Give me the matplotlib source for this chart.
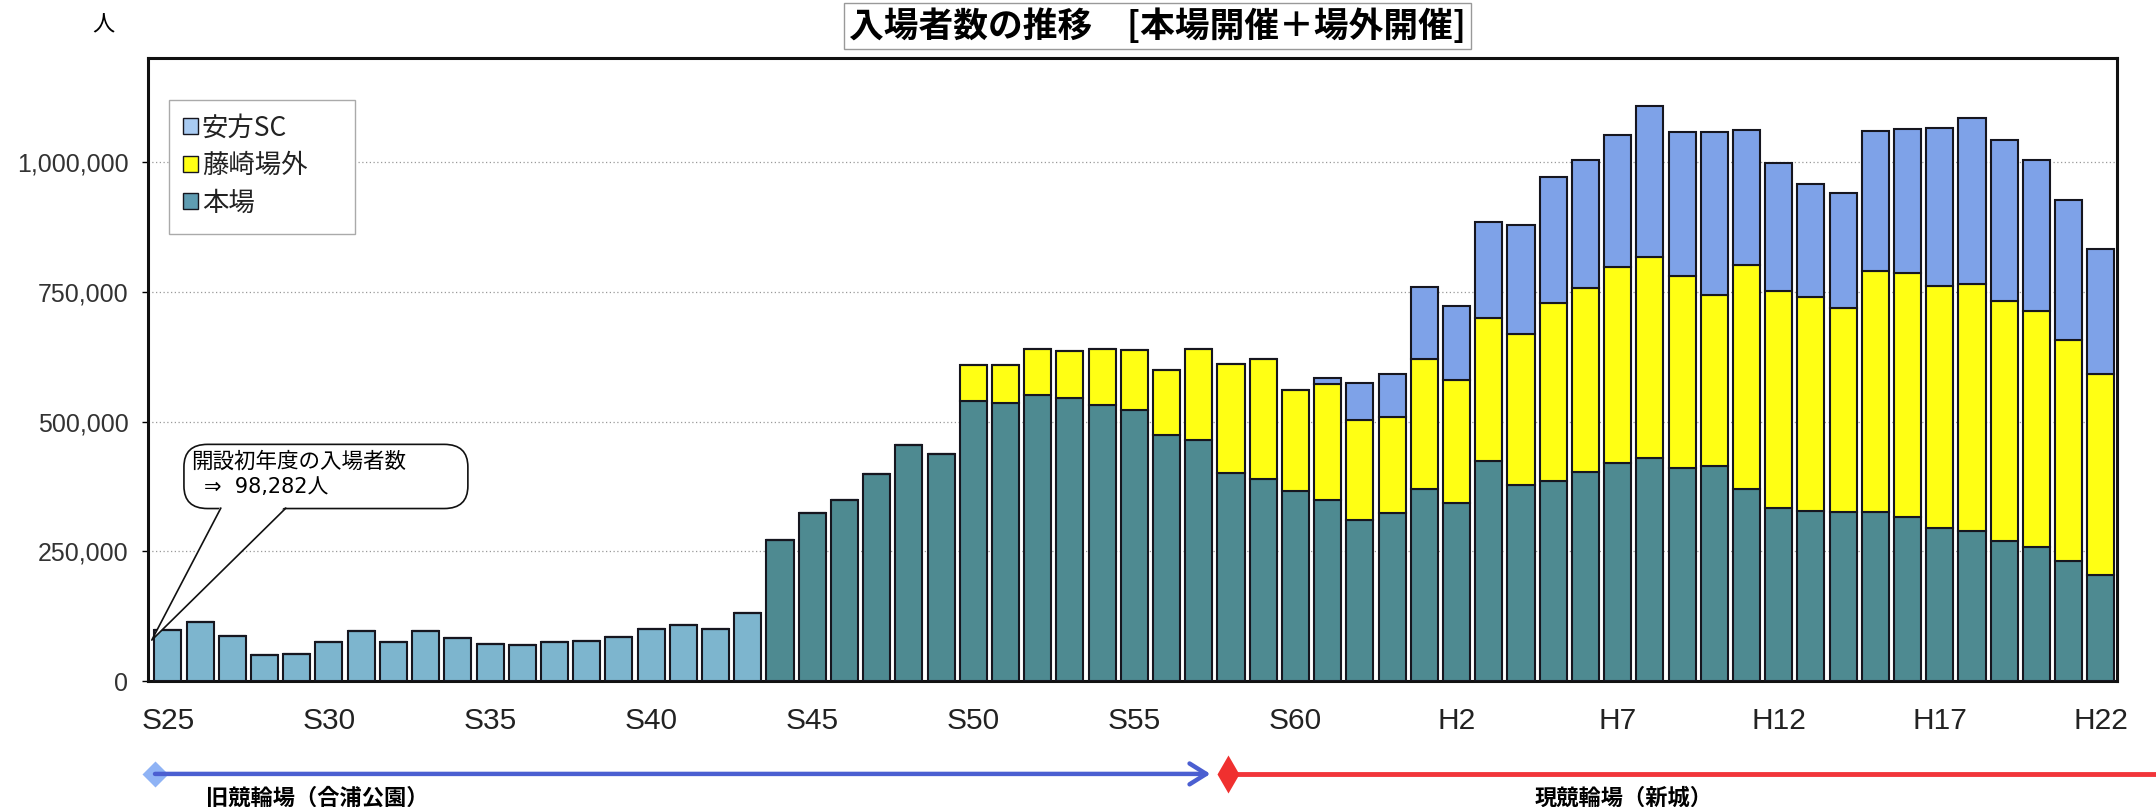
import numpy as np
import matplotlib
matplotlib.use('Agg')
import matplotlib.pyplot as plt
import matplotlib.transforms as mtransforms
from matplotlib.patches import Patch, FancyBboxPatch, Polygon, Rectangle
from matplotlib.ticker import FuncFormatter

plt.rcParams['font.family'] = ['Liberation Sans', 'Noto Sans CJK JP']
JP = ['Noto Sans CJK JP', 'DejaVu Sans']
NARROW = ['Liberation Sans Narrow', 'Liberation Sans']

# fiscal years S25 (1950) .. H22 (2010)
years = ['S%d' % n for n in range(25, 64)] + ['H%d' % n for n in range(1, 23)]
tick_years = ['S25', 'S30', 'S35', 'S40', 'S45', 'S50', 'S55', 'S60',
              'H2', 'H7', 'H12', 'H17', 'H22']

# 本場
honjo = [98282, 114000, 86000, 50000, 53000, 75000, 97000, 75000, 97000, 83000,
         71000, 69000, 76000, 78000, 85000, 100000, 108000, 101000, 132000, 272000,
         324000, 349000, 399000, 455000, 437000, 540000, 535000, 551000, 546000, 532000,
         522000, 475000, 465000, 401000, 390000, 366000, 348000, 311000, 323000, 370000,
         344000, 424000, 377000, 386000, 403000, 421000, 430000, 410000, 415000, 370000,
         334000, 328000, 325000, 326000, 317000, 294000, 289000, 269000, 258000, 231000,
         204000]
# 藤崎場外
fujisaki = [0] * 25 + [68000, 73000, 88000, 90000, 108000, 116000, 124000, 174000,
                       210000, 231000, 194000, 224000, 191000, 185000, 250000, 236000,
                       276000, 292000, 342000, 354000, 376000, 386000, 371000, 328000,
                       431000, 417000, 411000, 393000, 464000, 469000, 467000, 476000,
                       464000, 454000, 426000, 388000]
# 安方SC
yasukata = [0] * 36 + [11000, 72000, 83000, 139000, 143000, 184000, 210000, 243000,
                       246000, 255000, 292000, 276000, 315000, 260000, 246000, 219000,
                       222000, 269000, 278000, 305000, 319000, 309000, 291000, 270000,
                       240000]

last_light = 'S43'   # early 本場 bars print lighter in the source

c_honjo_old = '#7db5ce'
c_honjo = '#4e8a91'
c_fuji = '#ffff14'
c_yasu = '#7ea2e8'
edge = '#16161f'

fig = plt.figure(figsize=(21.56, 8.07), dpi=100)
ax = fig.add_axes([0.0686, 0.156, 0.9133, 0.772])

x = np.arange(len(years))
honjo_a = np.array(honjo)
fuji_a = np.array(fujisaki)
yasu_a = np.array(yasukata)
cols = [c_honjo_old if i <= years.index(last_light) else c_honjo for i in range(len(years))]

w = 0.84
ax.bar(x, honjo_a, width=w, color=cols, edgecolor=edge, linewidth=1.5, zorder=3)
ax.bar(x, fuji_a, width=w, bottom=honjo_a, color=c_fuji, edgecolor=edge, linewidth=1.5, zorder=3)
ax.bar(x, yasu_a, width=w, bottom=honjo_a + fuji_a, color=c_yasu, edgecolor=edge,
       linewidth=1.5, zorder=3)

ax.set_xlim(-0.62, 60.5)
ax.set_ylim(0, 1200000)
ax.set_yticks(np.arange(0, 1000001, 250000))
ax.yaxis.set_major_formatter(FuncFormatter(lambda v, p: '{:,.0f}'.format(v)))
ax.set_xticks([years.index(t) for t in tick_years])
ax.set_xticklabels(tick_years, family=NARROW, fontsize=21.5, color='#222222')
for lab in ax.get_yticklabels():
    lab.set_fontsize(18)
    lab.set_color('#333333')
ax.tick_params(axis='x', length=0, pad=19)
ax.tick_params(axis='y', length=4, width=1, pad=10, direction='out')

ax.yaxis.grid(True, linestyle=(0, (1, 2)), color='#999999', linewidth=0.9)
ax.set_axisbelow(True)
for s in ax.spines.values():
    s.set_linewidth(2.2)
    s.set_color('#111111')

# legend: own frame so it can be as wide as in the source
ax.add_patch(Rectangle((0.0107, 0.7175), 0.0944, 0.2151, transform=ax.transAxes,
                       fc='white', ec='#aaaaaa', lw=1.0, zorder=5))
handles = [Patch(facecolor='#a9cbf2', edgecolor=edge, label='安方SC'),
           Patch(facecolor=c_fuji, edgecolor=edge, label='藤崎場外'),
           Patch(facecolor='#5f9cb2', edgecolor=edge, label='本場')]
leg = ax.legend(handles=handles, loc='upper left', bbox_to_anchor=(0.0107, 0.9326),
                borderaxespad=0, frameon=False,
                prop={'family': JP, 'size': 19},
                handlelength=0.55, handleheight=0.55, handletextpad=0.15,
                labelspacing=0.4, borderpad=0.55)
leg.set_zorder(6)
for t in leg.get_texts():
    t.set_color('#222222')

# callout for first year
to_axes = ax.transAxes.inverted()
tip = to_axes.transform(ax.transData.transform((-0.5, 79000)))
box = FancyBboxPatch((0.0183, 0.277), 0.1442, 0.103,
                     boxstyle='round,pad=0,rounding_size=0.012',
                     transform=ax.transAxes, fc='white', ec='#111111', lw=1.2,
                     zorder=6, clip_on=False, mutation_aspect=3.0)
ax.add_patch(box)
b1 = (0.0370, 0.2775)
b2 = (0.0700, 0.2775)
ax.add_patch(Polygon([(b1[0], b1[1] + 0.004), tip, (b2[0], b2[1] + 0.004)], closed=True,
                     transform=ax.transAxes, fc='white', ec='none', zorder=7, clip_on=False))
ax.plot([b1[0], tip[0], b2[0]], [b1[1], tip[1], b2[1]], transform=ax.transAxes,
        color='#111111', lw=1.2, zorder=8, clip_on=False)
ax.text(0.0221, 0.352, '開設初年度の入場者数', transform=ax.transAxes, fontsize=15.5,
        family=JP, ha='left', va='center', zorder=9)
ax.text(0.0285, 0.312, '⇒  {:,}人'.format(honjo[0]), transform=ax.transAxes,
        fontsize=15, family=['DejaVu Sans', 'Noto Sans CJK JP'], ha='left', va='center', zorder=9)

# velodrome periods under the axis
trans = mtransforms.blended_transform_factory(ax.transData, fig.transFigure)
yl = 0.041
ax.annotate('', xy=(32.36, yl), xytext=(-0.4, yl), xycoords=trans, textcoords=trans,
            arrowprops=dict(arrowstyle='->,head_length=1.2,head_width=0.75',
                            color='#4b5fd1', lw=3.2, shrinkA=0, shrinkB=0),
            annotation_clip=False)
ax.plot([-0.4], [yl], marker='D', ms=13, color='#8fb3f5', mec='none',
        transform=trans, clip_on=False)
ax.plot([32.9, 61.8], [yl, yl], color='#f2353a', lw=3.5, transform=trans, clip_on=False,
        solid_capstyle='butt')
ax.plot([32.9], [yl], marker='d', ms=19, color='#f0302f', mec='none',
        transform=trans, clip_on=False)
ax.text(1.18, 0.011, '旧競輪場（合浦公園）', transform=trans, ha='left', va='center',
        fontsize=16, fontweight='bold', family=JP)
ax.text(45.2, 0.011, '現競輪場（新城）', transform=trans, ha='center', va='center',
        fontsize=16, fontweight='bold', family=JP)

fig.text(0.537, 0.968, '入場者数の推移　[本場開催＋場外開催]', ha='center', va='center',
         fontsize=25, fontweight='bold', family=JP,
         bbox=dict(boxstyle='square,pad=0.15', fc='white', ec='#999999', lw=1.0))
fig.text(0.048, 0.969, '人', ha='center', va='center', fontsize=16, family=JP)

fig.savefig('out.png', dpi=100)
